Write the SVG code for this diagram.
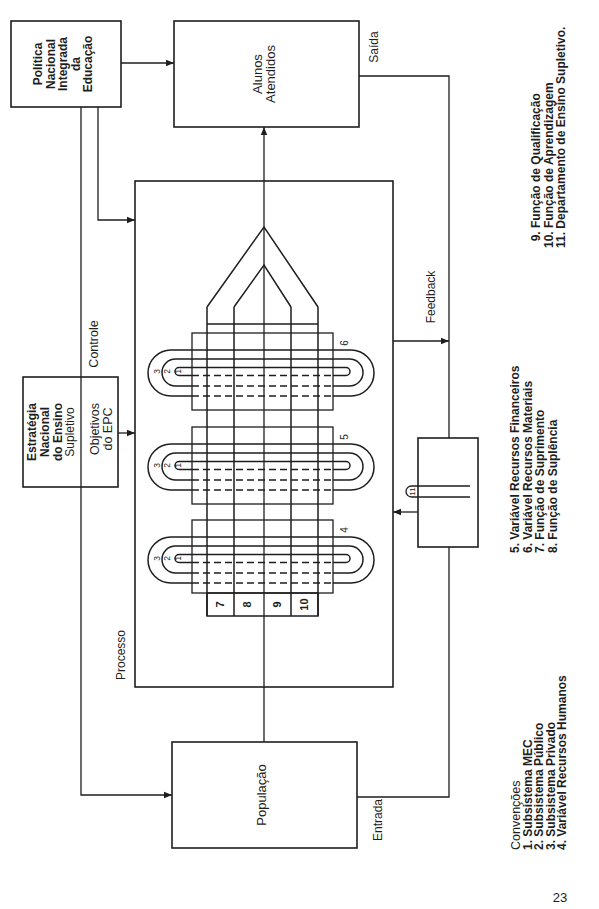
<svg xmlns="http://www.w3.org/2000/svg" width="599" height="909" viewBox="0 0 599 909">
<style>
.ln{stroke:#1e1e1e;stroke-width:1.3;fill:none}
.bx{stroke:#1e1e1e;stroke-width:1.6;fill:none}
.lp{stroke:#1e1e1e;stroke-width:1.5;fill:none}
.ds{stroke:#1e1e1e;stroke-width:1.6;fill:none;stroke-dasharray:7 4}
text{font-family:"Liberation Sans",Arial,Helvetica,sans-serif;fill:#1e1e1e}
.b{font-weight:bold}
.m{text-anchor:middle}
</style>
<defs>
<marker id="ah" viewBox="0 0 10 10" refX="10" refY="5" markerWidth="9" markerHeight="8" markerUnits="userSpaceOnUse" orient="auto"><path d="M0,1 L10,5 L0,9 z" fill="#1e1e1e"/></marker>
</defs>
<rect width="599" height="909" fill="#fff"/>

<g id="connectors">
<path class="ln" d="M121,63 H174" marker-end="url(#ah)"/>
<path class="ln" d="M81,107 V795 H172" marker-end="url(#ah)"/>
<path class="ln" d="M98,107 V220 H135" marker-end="url(#ah)"/>
<path class="ln" d="M118,433 H135" marker-end="url(#ah)"/>
<path class="ln" d="M264,742 V127" marker-end="url(#ah)"/>
<path class="ln" d="M359,76 H449 V438"/>
<path class="ln" d="M449,547 V797 H357"/>
<path class="ln" d="M393,341 H449" marker-end="url(#ah)"/>
<path class="ln" d="M418,512 H393" marker-end="url(#ah)"/>
</g>

<g id="politica">
<rect class="bx" x="11" y="21" width="110" height="86"/>
<text class="b m" font-size="12" transform="translate(0,64) rotate(-90)"><tspan x="0" y="42">Política</tspan><tspan x="0" y="54.5">Nacional</tspan><tspan x="0" y="67">Integrada</tspan><tspan x="0" y="79.5">da</tspan><tspan x="0" y="92">Educação</tspan></text>
</g>

<g id="alunos">
<rect class="bx" x="174" y="21" width="185" height="106"/>
<text class="m" font-size="13" transform="translate(0,74) rotate(-90)"><tspan x="0" y="262">Alunos</tspan><tspan x="0" y="275">Atendidos</tspan></text>
</g>

<g id="estrategia">
<rect class="bx" x="23" y="377" width="95" height="110"/>
<text class="m" font-size="12" transform="translate(0,432) rotate(-90)"><tspan class="b" x="0" y="36">Estratégia</tspan><tspan class="b" x="0" y="49">Nacional</tspan><tspan class="b" x="0" y="61.5">do Ensino</tspan><tspan x="0" y="74">Supletivo</tspan></text>
<text class="m" font-size="12.5" transform="translate(0,429) rotate(-90)"><tspan x="0" y="99">Objetivos</tspan><tspan x="0" y="112">do EPC</tspan></text>
</g>

<g id="processo">
<rect class="bx" x="135" y="181" width="258" height="506"/>
<text class="m" font-size="12" transform="translate(125,655) rotate(-90)">Processo</text>
</g>

<g id="modulo6">
<rect class="ln" x="192" y="333" width="141" height="77"/>
<path class="lp" d="M192,396 H171 A23,23 0 0 1 171,350 H351 A23,23 0 0 1 351,396 H333"/>
<path class="ds" d="M192,396 H333"/>
<path class="lp" d="M192,386 H175.5 A13.5,13.5 0 0 1 175.5,359 H349.5 A13.5,13.5 0 0 1 349.5,386 H333"/>
<path class="ds" d="M192,386 H333"/>
<path class="lp" d="M192,375.5 H179 A4,4 0 0 1 179,367.5 H346 A4,4 0 0 1 346,375.5 H333"/>
<path class="ds" d="M192,375.5 H333"/>
<text class="m" font-size="8.5" transform="translate(0,371.5) rotate(-90)"><tspan x="0" y="160">3</tspan><tspan x="0" y="170">2</tspan><tspan x="0" y="181">1</tspan></text>
<text class="m" font-size="10" transform="translate(348,343) rotate(-90)">6</text>
</g>

<g id="modulo5">
<rect class="ln" x="192" y="427" width="141" height="77"/>
<path class="lp" d="M192,490 H171 A23,23 0 0 1 171,444 H351 A23,23 0 0 1 351,490 H333"/>
<path class="ds" d="M192,490 H333"/>
<path class="lp" d="M192,480 H175.5 A13.5,13.5 0 0 1 175.5,453 H349.5 A13.5,13.5 0 0 1 349.5,480 H333"/>
<path class="ds" d="M192,480 H333"/>
<path class="lp" d="M192,469.5 H179 A4,4 0 0 1 179,461.5 H346 A4,4 0 0 1 346,469.5 H333"/>
<path class="ds" d="M192,469.5 H333"/>
<text class="m" font-size="8.5" transform="translate(0,465.5) rotate(-90)"><tspan x="0" y="160">3</tspan><tspan x="0" y="170">2</tspan><tspan x="0" y="181">1</tspan></text>
<text class="m" font-size="10" transform="translate(348,437) rotate(-90)">5</text>
</g>

<g id="modulo4">
<rect class="ln" x="192" y="520" width="141" height="73"/>
<path class="lp" d="M192,583 H171 A23,23 0 0 1 171,537 H351 A23,23 0 0 1 351,583 H333"/>
<path class="ds" d="M192,583 H333"/>
<path class="lp" d="M192,573 H175.5 A13.5,13.5 0 0 1 175.5,546 H349.5 A13.5,13.5 0 0 1 349.5,573 H333"/>
<path class="ds" d="M192,573 H333"/>
<path class="lp" d="M192,562.5 H179 A4,4 0 0 1 179,554.5 H346 A4,4 0 0 1 346,562.5 H333"/>
<path class="ds" d="M192,562.5 H333"/>
<text class="m" font-size="8.5" transform="translate(0,558.5) rotate(-90)"><tspan x="0" y="160">3</tspan><tspan x="0" y="170">2</tspan><tspan x="0" y="181">1</tspan></text>
<text class="m" font-size="10" transform="translate(348,530) rotate(-90)">4</text>
</g>

<g id="funcoes">
<path class="lp" d="M207,307 V616 M234,307 V616 M291,307 V616 M318,307 V616"/>
<path class="lp" d="M207,307 L264,227 L318,307 M234,307 L264,265 L291,307"/>
<path class="lp" d="M207,324 H318"/>
<rect class="lp" x="207" y="593" width="111" height="23"/>
<text class="m b" font-size="11" transform="translate(0,604.5) rotate(-90)"><tspan x="0" y="224">7</tspan><tspan x="0" y="251">8</tspan><tspan x="0" y="281">9</tspan><tspan x="0" y="308">10</tspan></text>
</g>

<g id="populacao">
<rect class="bx" x="172" y="742" width="185" height="106"/>
<text class="m" font-size="13" transform="translate(266,795) rotate(-90)">População</text>
</g>

<g id="departamento">
<rect class="bx" x="418" y="438" width="60" height="109"/>
<path class="ln" d="M470,486 H411.5 A5.5,5.5 0 0 0 411.5,497 H470"/>
<text class="m" font-size="8" transform="translate(414.5,491.5) rotate(-90)">11</text>
</g>

<g id="rotulos">
<text class="m" font-size="12" transform="translate(378,47) rotate(-90)">Saída</text>
<text class="m" font-size="12.5" transform="translate(98,344) rotate(-90)">Controle</text>
<text class="m" font-size="12" transform="translate(435,297) rotate(-90)">Feedback</text>
<text class="m" font-size="12" transform="translate(382,820) rotate(-90)">Entrada</text>
</g>

<g id="legenda">
<text font-size="12" transform="translate(0,850) rotate(-90)"><tspan x="0" y="520" font-size="12.5">Convenções</tspan><tspan class="b" x="0" y="531.5">1. Subsistema MEC</tspan><tspan class="b" x="0" y="543">2. Subsistema Público</tspan><tspan class="b" x="0" y="554.5">3. Subsistema Privado</tspan><tspan class="b" x="0" y="566">4. Variável Recursos Humanos</tspan></text>
<text class="b" font-size="12" transform="translate(0,553) rotate(-90)"><tspan x="0" y="519">5. Variável Recursos Financeiros</tspan><tspan x="0" y="531.5">6. Variável Recursos Materiais</tspan><tspan x="0" y="544">7. Função de Suprimento</tspan><tspan x="0" y="556.5">8. Função de Suplência</tspan></text>
<text class="b" font-size="12" transform="translate(0,248) rotate(-90)"><tspan x="6.7" y="540">9. Função de Qualificação</tspan><tspan x="0" y="552.5">10. Função de Aprendizagem</tspan><tspan x="0" y="565">11. Departamento de Ensino Supletivo.</tspan></text>
<text class="m" font-size="13" x="560" y="902">23</text>
</g>
</svg>
